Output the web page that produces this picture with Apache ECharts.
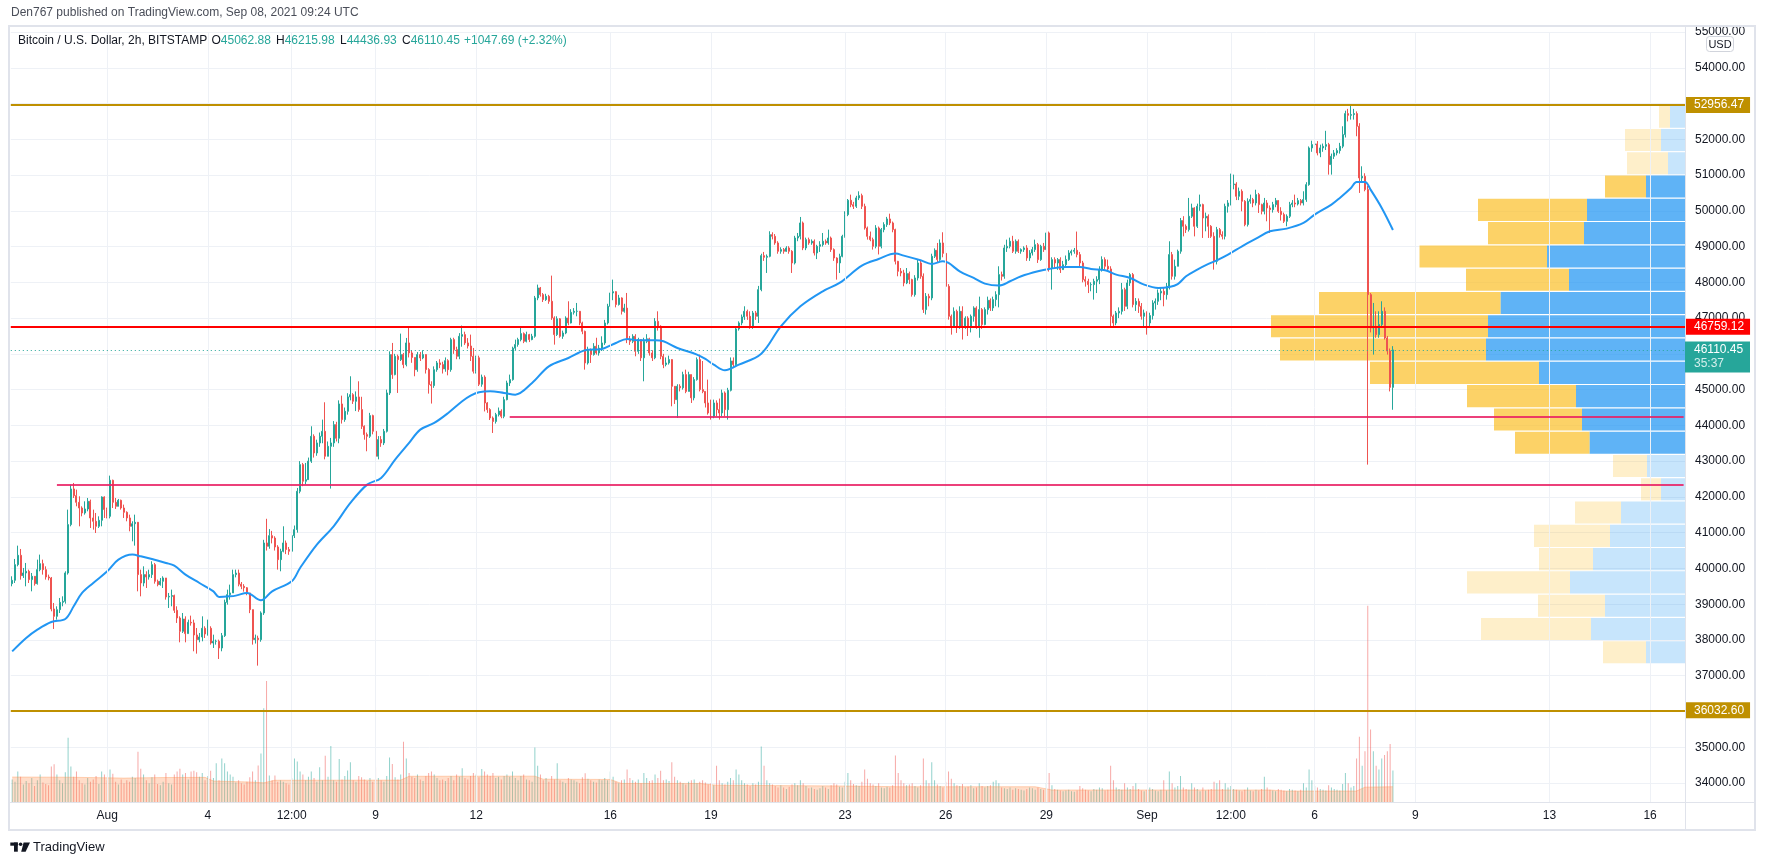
<!DOCTYPE html>
<html>
<head>
<meta charset="utf-8">
<script src="https://cdn.jsdelivr.net/npm/echarts/dist/echarts.min.js"></script>
<style>
html,body{margin:0;padding:0;background:#ffffff;}
#chart{width:1765px;height:865px;}
</style>
</head>
<body>
<div id="chart"></div>
<script>
// ---------------- DATA ----------------
const startTime = Date.UTC(2021, 6, 29, 4, 0);   // first visible 2h bar
const firstOpen = 39575;
const closes = [
39668,40106,40367,39798,39873,39920,39687,39780,39575,39966,
40134,39966,39761,39733,38866,38661,38847,39052,39080,39873,
41225,42222,42035,41849,41690,41551,41663,41877,41411,41318,
41178,41346,41998,41650,41457,42464,41849,41737,41905,41690,
41570,41411,41178,41250,41290,39827,39593,39827,39761,39827,
40106,39640,39547,39640,39733,39202,39220,39240,38829,38614,
38242,38586,38177,38493,38475,38139,38009,38083,38326,38167,
38326,37915,37962,37962,37775,38121,39052,39267,39314,39827,
39870,39560,39500,39460,39314,38848,38009,38050,38009,38755,
40712,40619,40917,40850,40600,40246,40479,40712,40530,40480,
40917,41085,42157,42903,42437,42483,43000,43695,43229,43509,
43695,43835,43136,43415,43509,44021,43640,44599,44161,44394,
44795,44860,44674,44795,44441,43975,43742,43695,44273,43835,
43136,43602,43509,43835,44907,45979,45420,45932,45839,45979,
45699,46305,46025,45900,45559,45979,45886,45979,45560,45140,
45112,45559,45746,45699,45580,45810,45559,46398,46118,45932,
46491,46538,46305,46220,45932,45513,45890,45150,45350,44627,
44441,44207,44110,44300,44400,44254,44720,45186,45280,46160,
46260,46398,46566,46350,46538,46400,46491,47563,47843,47657,
47516,47610,47470,47005,46538,46980,46491,46584,47003,46864,
47160,47190,47190,46864,46630,45746,46118,45980,46212,46025,
46160,46305,46864,47330,47703,47740,47380,47563,47190,47280,
46398,46350,46491,46072,46398,45890,46350,46420,46025,45890,
46910,46771,45932,45700,45746,45839,45093,44720,45093,45050,
45420,44950,45420,44770,45280,45839,45000,44950,44627,44347,
44254,44627,44440,44347,44907,44440,44981,45802,45700,46697,
46864,47033,47190,47051,46771,47144,47051,47796,48746,48700,
48728,49334,49287,49101,48868,48915,48868,48961,48868,48542,
49240,49287,49660,48961,49194,49101,49150,48821,49008,49054,
49150,49101,49240,48915,48680,48542,48728,49287,49893,50294,
50172,50126,50360,50425,50126,49520,49287,49194,49008,49520,
49008,49474,49614,49772,49660,49474,48588,48309,48262,47983,
48244,48076,47656,48122,48542,48169,47237,47610,47563,48728,
48896,48635,49101,48810,47889,47051,46771,47190,46771,47190,
46771,47000,46771,47051,47284,46771,47237,46818,47237,47498,
47284,47517,47656,48216,48169,48961,49008,49148,48868,49148,
48868,48915,48961,48682,48821,48915,49054,48635,49008,48915,
49381,48402,48635,48542,48635,48355,48495,48635,48821,48868,
48896,48775,48542,48076,48030,47936,47936,48030,48076,48355,
48635,48449,48374,47051,46864,47144,47190,47796,47330,47983,
48216,47377,47470,47330,47051,47144,46864,47070,47423,47470,
47703,47750,47656,47889,48775,48169,48449,48868,49727,49567,
49474,49847,50080,49567,50126,50173,49800,49847,49567,49287,
48588,49474,49334,49287,50126,50219,50732,50750,50406,50546,
50266,49614,50266,50313,50219,50453,50173,49987,50219,50080,
50033,50173,50285,49987,49894,49707,49847,50173,50219,50190,
50285,50219,50313,50732,51758,51851,51870,51618,51758,51804,
51851,51292,51524,51618,51683,51804,52131,52718,52671,52690,
52718,52364,50919,50965,50593,47656,46725,46770,46538,46820,
47190,46445,46080,45062.88,46110.45
];
const highs = [
39780,40265,40637,40544,40013,40153,39966,39873,39733,40246,
40386,40246,40059,39827,39761,39034,38941,39174,39220,39920,
41644,42343,42390,42203,42017,41737,41877,41970,41924,41644,
41551,41457,42017,42017,41700,42595,42483,41970,41942,41924,
41784,41597,41504,41318,41504,41300,39966,40059,39920,39966,
40200,40153,39687,39733,39780,39733,39314,39407,39267,38941,
38661,38754,38661,38568,38680,38568,38335,38195,38661,38382,
38568,38382,38148,38009,38009,38195,39127,39407,39547,39966,
39967,39967,39620,39560,39480,39314,38850,38150,38120,38800,
40800,41388,41100,41050,40900,40650,40550,41178,40780,40600,
41085,41200,42250,43000,42950,42950,43100,43975,43750,43600,
43800,44161,44646,43550,43650,44120,44100,44700,44832,44500,
44900,45373,44900,44950,45233,44800,44000,43800,44350,44300,
43850,43700,43700,43900,45000,46070,46305,46000,45979,46566,
46025,46445,46752,46100,45900,46050,46050,46100,45990,45600,
45233,45650,45800,45850,45780,45900,45850,46450,46450,46200,
46580,46791,46620,46440,46538,46165,45950,45950,45420,45400,
44650,44480,44250,44350,44500,44450,44800,45250,45420,46200,
46398,46450,46724,46600,46620,46560,46560,47620,47936,47870,
47700,47680,47650,48188,47050,47050,47000,46650,47050,47470,
47250,47280,47423,47200,46900,46650,46200,46150,46300,46450,
46250,46491,46950,47400,47815,48076,47750,47650,47580,47400,
47703,46500,46550,46550,46450,46400,46450,46550,46450,46100,
47000,47190,46800,46000,45900,45950,45850,45100,45150,45150,
45500,45559,45500,45150,45350,45900,45979,45800,44907,45280,
44720,44720,44700,44750,45000,44950,45050,45900,45900,46750,
46910,47100,47330,47237,47190,47200,47200,47900,48800,48850,
48780,49428,49400,49350,49150,48980,48960,49010,49010,48900,
49300,49380,49828,49700,49250,49250,49200,49200,49050,49150,
49380,49200,49474,49280,48950,48700,48800,49330,49986,50330,
50452,50250,50420,50545,50480,50200,49560,49420,49250,49600,
49560,49520,49680,49830,49920,49700,49500,48600,48400,48350,
48400,48300,48100,48200,48635,48600,48250,47700,47680,48800,
48950,49101,49200,49400,48800,47950,47100,47300,47237,47330,
47330,47050,47051,47100,47330,47330,47600,47280,47300,47600,
47550,47600,47750,48449,48300,49050,49194,49250,49300,49200,
49200,48950,49008,49040,48900,48990,49194,49101,49050,49101,
49660,49420,48700,48700,48680,48700,48600,48750,48900,48915,
48961,49420,48850,48600,48169,48100,48000,48100,48170,48450,
48728,48700,48635,48450,47100,47200,47300,47983,47850,48076,
48262,48262,47560,47550,47420,47237,47190,47150,47500,47550,
47800,47850,47850,47983,49148,48850,48635,48915,49800,49850,
49620,50360,50200,50100,50200,50453,50200,49950,49900,49600,
49400,49550,49520,49427,50200,50300,51040,51012,50800,50650,
50600,50300,50350,50453,50360,50590,50500,50200,50360,50300,
50150,50250,50360,50300,50100,49950,49900,50250,50300,50453,
50360,50330,50546,50800,51800,51960,51944,51950,51850,51880,
52237,51900,51600,51700,51750,51900,52364,52800,52850,52956.47,
52850,52780,52450,51245,51050,50700,47700,47423,47190,47190,
47470,47300,46500,46150,46215.98
];
const lows = [
39500,39593,40059,39687,39733,39500,39593,39360,39519,39547,
39920,39827,39687,39668,38801,38307,38568,38754,38941,39015,
39827,41178,41970,41737,41178,41457,41504,41597,41131,41085,
40991,41131,41178,41411,41400,41400,41690,41663,41784,41644,
41411,41318,41038,40758,40637,39360,39220,39500,39453,39687,
39733,39575,39500,39519,39453,39127,38894,38941,38754,38475,
37934,38195,37934,38382,38400,37683,37617,37934,37962,38055,
38121,37869,37775,37869,37468,37683,38083,38987,39127,39314,
39750,39500,39420,39350,39250,38750,37869,37900,37282,37950,
38700,40500,40550,40700,40500,39967,39920,40450,40400,40380,
40400,40850,41000,42100,42300,42350,42700,42950,43100,43150,
43400,43500,43050,43136,42232,43400,43550,43500,44050,44100,
44300,44700,44600,44400,44380,43900,43600,43276,43650,43750,
42810,43050,43400,43450,43800,44850,45300,45400,44907,45800,
45600,45650,45900,45750,45373,45500,45800,45850,45450,44888,
44610,45050,45500,45600,45450,45500,45400,45500,46000,45850,
45850,46200,46250,46150,45800,45450,45450,45100,45080,44390,
44350,44150,43788,44050,44250,44200,44200,44700,45100,45250,
46100,46200,46350,46300,46320,46330,46380,46450,47500,47600,
47450,47480,47400,46950,46258,46500,46450,46420,46550,46800,
46850,47100,47050,46800,46550,45559,45700,45746,45950,45980,
45950,46080,46250,46820,47280,47500,47300,47350,47100,47150,
46300,46250,46300,45932,46000,45800,45233,46300,45950,45800,
45850,46650,45850,45600,45650,45700,44534,44600,44207,44950,
45000,44900,44950,44627,44700,45250,44950,44900,44500,44300,
44161,44200,44254,44161,44254,44254,44161,44950,45600,45650,
46650,46800,46950,46950,46700,46700,46950,46864,47750,48600,
48262,48700,49200,49050,48800,48800,48800,48850,48800,48262,
48500,49150,49200,48900,48900,49050,49050,48750,48650,48850,
49000,49050,49050,48850,48600,48076,48262,48700,49250,49850,
50100,50050,50080,50300,50050,49474,49194,49150,48915,48950,
48780,48950,49400,49550,49600,49400,48500,48169,48169,47889,
47950,47950,47600,47600,48050,48100,47144,47100,47330,47500,
48680,48550,48600,48700,47800,46957,46538,46750,46585,46700,
46400,46700,46500,46600,46900,46700,46450,46700,46800,47100,
47200,47200,47330,47300,48050,48100,48850,48950,48820,48800,
48820,48800,48850,48600,48600,48750,48850,48542,48600,48850,
48850,48300,47796,48400,48350,48262,48350,48400,48600,48750,
48800,48700,48450,48000,47880,47700,47750,47517,47700,47950,
48300,48350,48300,46771,46724,46800,47000,47100,47200,47250,
47900,47300,47200,47144,46957,46771,46538,46771,46960,47237,
47370,47500,47330,47517,47800,48076,48076,48449,48800,49285,
49380,49420,49800,49285,49520,50000,49241,49427,49241,49241,
48355,48500,49250,49200,49200,49950,50150,50600,50300,50300,
49987,49568,49560,50200,50100,50150,49940,49900,49900,49707,
49380,49950,50100,49940,49727,49660,49568,49800,50100,50100,
50150,50150,50150,50250,50700,51650,51750,51550,51500,51650,
51700,51012,51012,51450,51550,51600,51750,52050,52500,52550,
52550,52085,50500,50800,50546,42903,46600,45979,46450,46450,
46750,46400,45980,44950,44436.93
];
const volumes = [
310,280,420,350,240,290,260,330,220,300,380,270,
250,230,489,520,380,300,260,410,887,489,350,420,
300,260,240,330,280,310,360,250,420,380,300,450,
390,280,240,310,260,300,280,350,330,693,460,380,
300,260,340,380,250,230,280,400,260,240,380,420,
460,380,400,310,420,430,410,350,400,300,360,430,
330,534,300,602,534,420,380,350,270,300,260,240,
280,340,420,300,502,670,1295,1671,366,300,366,280,
300,280,260,240,330,602,560,420,380,300,350,420,
330,280,480,300,638,350,774,300,280,593,310,360,
434,548,300,280,360,340,310,290,330,280,480,330,
300,280,360,615,525,340,310,380,833,602,400,350,
330,380,310,290,360,400,420,380,330,300,310,290,
330,360,300,380,350,466,330,310,360,400,380,340,
457,420,380,360,400,330,350,310,360,380,350,420,
330,300,360,380,310,300,280,751,500,380,300,330,
280,360,310,534,300,280,260,330,310,300,280,260,
340,398,320,300,280,270,310,300,330,300,421,350,
280,260,300,310,450,330,300,280,310,260,400,330,
290,300,380,330,430,300,310,290,548,350,300,280,
260,240,280,300,310,260,280,300,270,240,260,230,
500,300,260,240,280,330,300,450,380,300,260,240,
220,260,240,280,765,500,300,260,240,220,200,230,
200,180,210,240,260,230,300,260,220,190,200,180,
170,190,220,200,180,230,260,240,210,200,280,400,
300,250,230,220,280,450,320,260,240,220,260,200,
190,210,200,230,640,400,300,260,230,240,260,220,
200,230,600,300,260,550,300,240,220,200,280,420,
320,260,230,220,250,200,210,230,190,200,260,220,
200,220,230,280,300,260,200,190,180,200,170,190,
180,170,160,180,200,190,170,200,180,170,260,400,
230,180,170,160,150,160,170,150,140,160,220,190,
170,160,150,180,170,200,190,160,170,500,300,200,
180,170,260,200,180,220,260,180,160,150,170,200,
180,160,150,170,300,160,420,260,200,220,360,200,
180,170,260,200,180,150,200,160,170,180,280,260,
300,180,260,200,220,180,170,160,150,170,200,160,
150,170,160,180,350,200,170,160,150,180,170,160,
150,180,170,160,150,170,260,200,450,300,220,200,
180,170,160,230,200,180,170,160,250,400,260,200,
220,600,900,500,700,2707,1000,700,500,450,600,650,
700,800,435
];
// moving average: [bar, value]
const maPoints = [
[0,37680],[5,38055],[9,38288],[14,38503],[19,38587],[22,38941],[25,39314],[29,39593],[34,39919],[38,40246],
[43,40386],[46,40339],[50,40264],[55,40153],[58,40078],[62,39827],[67,39593],[72,39360],[74,39202],[78,39220],
[80,39240],[84,39314],[89,39109],[93,39361],[100,39640],[103,40013],[109,40665],[115,41178],[121,41831],[127,42344],
[132,42530],[137,43042],[142,43509],[146,43881],[151,44068],[156,44347],[161,44674],[164,44832],[167,44925],[171,44953],
[176,44907],[180,44860],[186,45186],[192,45652],[199,45885],[205,46100],[211,46137],[216,46305],[220,46417],[224,46379],
[230,46379],[233,46351],[238,46165],[245,45979],[248,45857],[251,45699],[255,45540],[260,45699],[268,46006],[275,46771],
[282,47330],[290,47750],[296,47983],[304,48467],[310,48654],[316,48803],[319,48747],[325,48616],[329,48514],[333,48588],
[335,48542],[339,48309],[344,48122],[348,47964],[353,47908],[357,48029],[361,48169],[367,48309],[371,48374],[377,48430],
[382,48430],[386,48374],[391,48337],[395,48216],[400,48122],[405,47936],[410,47843],[414,47871],[417,47950],[420,48169],
[424,48355],[428,48514],[431,48616],[435,48775],[440,49008],[445,49222],[450,49427],[456,49502],[462,49660],[466,49894],
[472,50173],[475,50360],[479,50639],[481,50807],[484,50807],[486,50592],[490,50080],[494,49462.96]
];
const volMaPoints = [
[0,345],[20,342],[40,330],[55,338],[69,340],[72,290],[85,276],[90,265],[94,300],[139,302],
[142,355],[187,357],[190,315],[214,311],[218,256],[246,256],[252,232],[300,220],[317,211],[366,211],
[372,166],[450,166],[455,152],[481,152],[484,205],[494,211]
];
// visible-range volume profile, 24 rows from the top (relative volume)
const vpHigh = 52956.47, vpLow = 37330;
const vpUp   = [15,24,17,39,98,101,138,116,184.5,197,199,146,109,103,95.5,38,24,64,75,92,115,80,94,39];
const vpDown = [11,36,41,41,109,96,127.5,103,181.5,217,206,169,109,88,74.5,34,20,46,76,54,103,67,110,43];
const vpValueArea = [3, 14];   // first and last row of the value area
// horizontal levels
const levelGold = [52956.47, 36032.60];
const levelRed = 46759.12;
const levelPink = [{price:44253.97, fromBar:178}, {price:42335.50, fromBar:16}];
const maLast = 49462.96;
const lastPrice = 46110.45, countdown = '35:37';
// time axis ticks
const tickBars  = [34,70,100,130,166,214,250,298,334,370,406,436,466,502,550,586];
const tickTexts = ['Aug','4','12:00','9','12','16','19','23','26','29','Sep','12:00','6','9','13','16'];
const priceMin = 34000, priceMax = 55000, priceStep = 1000;

// ---------------- BUILD ----------------
const W = 1765, H = 865;
const GL = 10.8, GR = 80;
const NCAT = 599;
const FONT = "'Liberation Sans', Arial, sans-serif";
const UP = '#26a69a', DOWN = '#ef5350';
const pad = n => (n < 10 ? '0' : '') + n;
const cats = [];
for (let i = 0; i < NCAT; i++) {
  const d = new Date(startTime + i * 7200000);
  cats.push(d.getUTCFullYear() + '-' + pad(d.getUTCMonth()+1) + '-' + pad(d.getUTCDate()) + ' ' + pad(d.getUTCHours()) + ':00');
}
const candles = closes.map((c, i) => {
  const o = i ? closes[i-1] : firstOpen;
  return [o, c, Math.min(lows[i], o, c), Math.max(highs[i], o, c)];
});
const volData = volumes.map((v, i) => ({
  value: v,
  itemStyle: {color: candles[i][1] >= candles[i][0] ? 'rgba(38,166,154,0.5)' : 'rgba(239,83,80,0.5)'}
}));
const rowH = (vpHigh - vpLow) / vpUp.length;
const vpData = vpUp.map((u, k) => {
  const hi = vpHigh - k * rowH;
  return [u, vpDown[k], hi - rowH, hi, (k >= vpValueArea[0] && k <= vpValueArea[1]) ? 1 : 0];
});
const tickMap = {};
tickBars.forEach((b, i) => tickMap[b] = tickTexts[i]);

function axisLabel(bg, txt, fg) {
  return {show: true, position: 'end', distance: 0, formatter: txt, backgroundColor: bg,
    color: fg || '#ffffff', padding: [2, 6, 2, 9], fontSize: 12, lineHeight: 12, fontFamily: FONT};
}
const hidden = {show: false};
const levelMarks = [];
levelGold.forEach(p => levelMarks.push({yAxis: p, lineStyle: {color: '#bf9000', width: 2, type: 'solid'}, label: axisLabel('#bf9000', p.toFixed(2))}));
levelMarks.push({yAxis: levelRed, lineStyle: {color: '#ff0000', width: 2, type: 'solid'}, label: axisLabel('#ff0000', levelRed.toFixed(2))});
levelPink.forEach(l => {
  levelMarks.push([{coord: [l.fromBar, l.price], lineStyle: {color: '#e91e63', width: 2, type: 'solid', opacity: 0.85}, label: hidden},
                   {coord: [NCAT - 1, l.price]}]);
  levelMarks.push({yAxis: l.price, lineStyle: {opacity: 0}, label: axisLabel('#ec407a', l.price.toFixed(2))});
});
levelMarks.push({yAxis: maLast, lineStyle: {opacity: 0}, label: axisLabel('#2196f3', maLast.toFixed(2))});
levelMarks.push({yAxis: lastPrice, lineStyle: {color: UP, width: 1, type: [1, 3]}, label: hidden});

const vGrid = tickBars.map(b => ({xAxis: b}));

const catAxisBase = {type: 'category', data: cats, boundaryGap: true,
  axisLine: hidden, axisTick: hidden, splitLine: hidden};

const option = {
  animation: false,
  backgroundColor: '#ffffff',
  textStyle: {fontFamily: FONT},
  grid: [
    {left: GL, right: GR, top: 32, bottom: 82},
    {left: GL, right: GR, top: 602, bottom: 63}
  ],
  xAxis: [
    Object.assign({}, catAxisBase, {gridIndex: 0, axisLabel: hidden}),
    Object.assign({}, catAxisBase, {gridIndex: 1, position: 'bottom',
      axisLabel: {show: true, interval: (idx) => tickMap[idx] !== undefined,
        formatter: (v, idx) => tickMap[idx] || '', color: '#131722', fontSize: 12, margin: 8, fontFamily: FONT}}),
    {type: 'value', gridIndex: 0, position: 'top', inverse: true, min: 0, max: W - GL - GR, show: false}
  ],
  yAxis: [
    {type: 'value', gridIndex: 0, position: 'right', min: priceMin, max: priceMax, interval: priceStep, scale: true,
      axisLine: hidden, axisTick: hidden,
      axisLabel: {color: '#131722', fontSize: 12, margin: 10, formatter: v => v.toFixed(2), fontFamily: FONT},
      splitLine: {show: true, lineStyle: {color: '#eef1f6', width: 1}}},
    {type: 'value', gridIndex: 1, min: 0, max: 2760, show: false, splitLine: hidden}
  ],
  series: [
    {type: 'line', name: 'vgrid0', xAxisIndex: 0, yAxisIndex: 0, data: [], z: 0, silent: true,
      markLine: {silent: true, symbol: 'none', animation: false, label: hidden,
        lineStyle: {color: '#eef1f6', width: 1, type: 'solid'}, data: vGrid}},
    {type: 'line', name: 'vgrid1', xAxisIndex: 1, yAxisIndex: 1, data: [], z: 0, silent: true,
      markLine: {silent: true, symbol: 'none', animation: false, label: hidden,
        lineStyle: {color: '#eef1f6', width: 1, type: 'solid'}, data: vGrid}},
    {type: 'custom', name: 'VPVR', xAxisIndex: 2, yAxisIndex: 0, z: 1, silent: true, clip: true,
      encode: {x: [0, 1], y: [2, 3]},
      data: vpData,
      renderItem: function (params, api) {
        const up = api.value(0), dn = api.value(1), lo = api.value(2), hi = api.value(3), va = api.value(4);
        const r = api.coord([0, hi]);
        const b = api.coord([0, lo]);
        const u = api.coord([up, lo]);
        const t = api.coord([up + dn, lo]);
        const y0 = r[1] + 0.6, h = b[1] - r[1] - 1.2;
        return {type: 'group', children: [
          {type: 'rect', shape: {x: u[0], y: y0, width: r[0] - u[0], height: h},
            style: {fill: va ? 'rgba(33,150,243,0.72)' : 'rgba(33,150,243,0.25)'}},
          {type: 'rect', shape: {x: t[0], y: y0, width: u[0] - t[0], height: h},
            style: {fill: va ? 'rgba(251,192,45,0.72)' : 'rgba(251,192,45,0.25)'}}
        ]};
      }},
    {type: 'bar', name: 'Volume', xAxisIndex: 1, yAxisIndex: 1, data: volData, barWidth: 1, z: 2, silent: true,
      markLine: {silent: true, symbol: 'none', animation: false, data: [
        {yAxis: volumes[volumes.length - 1], lineStyle: {opacity: 0}, label: axisLabel(UP, String(volumes[volumes.length - 1]))},
        {yAxis: volMaPoints[volMaPoints.length - 1][1], lineStyle: {opacity: 0}, label: axisLabel('#ff9b55', String(volMaPoints[volMaPoints.length - 1][1]), '#131722')}
      ]}},
    {type: 'line', name: 'Vol MA', xAxisIndex: 1, yAxisIndex: 1, data: volMaPoints, z: 3, silent: true,
      showSymbol: false, symbol: 'none', smooth: false,
      lineStyle: {color: 'rgba(255,140,70,0.35)', width: 1},
      areaStyle: {color: 'rgba(255,140,70,0.42)'}},
    {type: 'candlestick', name: 'BTCUSD', xAxisIndex: 0, yAxisIndex: 0, data: candles, z: 3, silent: true,
      barWidth: 1.5, barMinWidth: 1,
      itemStyle: {color: UP, color0: DOWN, borderColor: UP, borderColor0: DOWN, borderWidth: 1}},
    {type: 'line', name: 'MA', xAxisIndex: 0, yAxisIndex: 0, data: maPoints, z: 4, silent: true,
      showSymbol: false, symbol: 'none', smooth: 0.35,
      lineStyle: {color: '#2196f3', width: 2}},
    {type: 'line', name: 'levels', xAxisIndex: 0, yAxisIndex: 0, data: [], z: 6, silent: true,
      markLine: {silent: true, symbol: 'none', animation: false, z: 6, data: levelMarks}}
  ],
  graphic: []
};

const chart = echarts.init(document.getElementById('chart'), null, {renderer: 'canvas', width: W, height: H});
chart.setOption(option);

// static frame + texts, and the current-price label placed through the price scale
const yLast = chart.convertToPixel({yAxisIndex: 0}, lastPrice);
const xR = W - GR;
const g = [
  {id: 'frame', type: 'rect', z: 100, silent: true, shape: {x: 9, y: 26, width: 1746, height: 804},
    style: {fill: 'none', stroke: '#e0e3eb', lineWidth: 2}},
  {id: 'sepV', type: 'line', z: 100, silent: true, shape: {x1: xR + 0.5, y1: 26, x2: xR + 0.5, y2: 830},
    style: {stroke: '#e0e3eb', lineWidth: 1}},
  {id: 'sepH', type: 'line', z: 100, silent: true, shape: {x1: 9, y1: 802.5, x2: 1755, y2: 802.5},
    style: {stroke: '#e0e3eb', lineWidth: 1}},
  {id: 'pub', type: 'text', z: 100, silent: true, left: 11, top: 7,
    style: {text: 'Den767 published on TradingView.com, Sep 08, 2021 09:24 UTC', fill: '#4a4e59', font: '12px ' + FONT}},
  {id: 'sym', type: 'text', z: 100, silent: true, left: 18, top: 35,
    style: {text: 'Bitcoin / U.S. Dollar, 2h, BITSTAMP', fill: '#131722', font: '12px ' + FONT}},
  {id: 'o', type: 'text', z: 100, silent: true, left: 211.5, top: 35,
    style: {text: '{l|O}{v|45062.88}', rich: {l: {fill: '#131722', font: '12px ' + FONT}, v: {fill: UP, font: '12px ' + FONT}}}},
  {id: 'h', type: 'text', z: 100, silent: true, left: 276, top: 35,
    style: {text: '{l|H}{v|46215.98}', rich: {l: {fill: '#131722', font: '12px ' + FONT}, v: {fill: UP, font: '12px ' + FONT}}}},
  {id: 'l', type: 'text', z: 100, silent: true, left: 340, top: 35,
    style: {text: '{l|L}{v|44436.93}', rich: {l: {fill: '#131722', font: '12px ' + FONT}, v: {fill: UP, font: '12px ' + FONT}}}},
  {id: 'c', type: 'text', z: 100, silent: true, left: 402, top: 35,
    style: {text: '{l|C}{v|46110.45}', rich: {l: {fill: '#131722', font: '12px ' + FONT}, v: {fill: UP, font: '12px ' + FONT}}}},
  {id: 'chg', type: 'text', z: 100, silent: true, left: 464, top: 35,
    style: {text: '+1047.69 (+2.32%)', fill: UP, font: '12px ' + FONT}},
  {id: 'usdBox', type: 'rect', z: 100, silent: true, shape: {x: 1706.5, y: 36.5, width: 27, height: 15, r: 3},
    style: {fill: '#ffffff', stroke: '#d1d4dc', lineWidth: 1}},
  {id: 'usd', type: 'text', z: 101, silent: true, x: 1720, y: 44.5,
    style: {text: 'USD', fill: '#131722', font: '11px ' + FONT, align: 'center', verticalAlign: 'middle'}},
  {id: 'lastBox', type: 'rect', z: 102, silent: true, shape: {x: xR, y: yLast - 8.5, width: 65, height: 31},
    style: {fill: UP}},
  {id: 'lastTxt', type: 'text', z: 103, silent: true, x: xR + 9, y: yLast,
    style: {text: lastPrice.toFixed(2), fill: '#ffffff', font: '12px ' + FONT, verticalAlign: 'middle'}},
  {id: 'cdTxt', type: 'text', z: 103, silent: true, x: xR + 9, y: yLast + 14,
    style: {text: countdown, fill: '#d4efec', font: '12px ' + FONT, verticalAlign: 'middle'}},
  {id: 'logo1', type: 'rect', z: 100, silent: true, shape: {x: 10.3, y: 842.5, width: 7.5, height: 3.2}, style: {fill: '#131722'}},
  {id: 'logo2', type: 'rect', z: 100, silent: true, shape: {x: 14, y: 842.5, width: 3.8, height: 9.2}, style: {fill: '#131722'}},
  {id: 'logo3', type: 'circle', z: 100, silent: true, shape: {cx: 20.6, cy: 844.2, r: 1.8}, style: {fill: '#131722'}},
  {id: 'logo4', type: 'polygon', z: 100, silent: true, shape: {points: [[23.6, 842.5], [30, 842.5], [25.6, 851.7], [21.2, 851.7]]}, style: {fill: '#131722'}},
  {id: 'logoTxt', type: 'text', z: 100, silent: true, x: 33, y: 847.5,
    style: {text: 'TradingView', fill: '#131722', font: '13px ' + FONT, verticalAlign: 'middle'}}
];
chart.setOption({graphic: g});
</script>
</body>
</html>
